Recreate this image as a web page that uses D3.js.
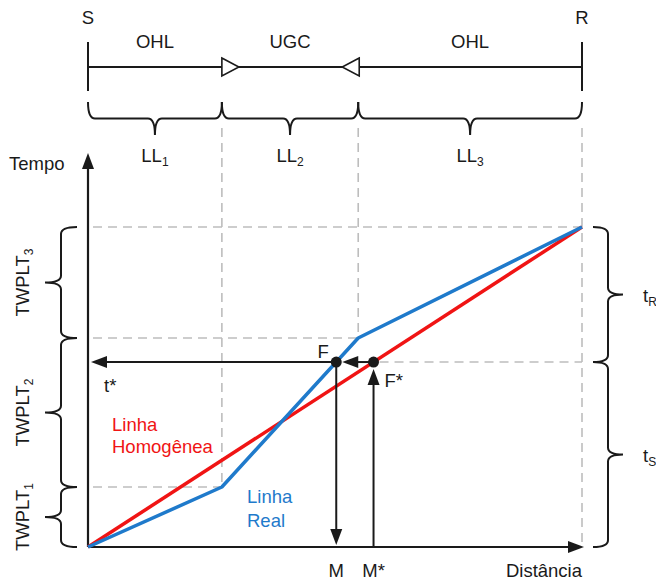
<!DOCTYPE html>
<html>
<head>
<meta charset="utf-8">
<script src="https://cdn.jsdelivr.net/npm/d3@7"></script>
<style>
  body { margin: 0; background: #fff; }
  text { font-family: "Liberation Sans", Arial, sans-serif; }
</style>
</head>
<body>
<div id="root"></div>
<script>
// distances (0..100) of the section boundaries S | OHL | UGC | OHL | R
var sections = ["OHL", "UGC", "OHL"];
var sectionEnds = [0, 27.1, 54.7, 100];
var lengthLabels = ["LL1", "LL2", "LL3"];

// travel time (0..100) at each boundary
var timeReal = [0, 18.75, 65.3, 100];
var timeLabels = ["TWPLT1", "TWPLT2", "TWPLT3"];
var tStar = 57.8; // t*, time where the reflections meet

var width = 656;
var height = 582;
var fs = 18.5;

var svg = d3
  .select("#root")
  .append("svg")
  .attr("width", width)
  .attr("height", height);

var x = d3.scaleLinear().domain([0, 100]).range([88, 582]);
var y = d3.scaleLinear().domain([0, 100]).range([547, 227]);

var grey = "#bdbdbd";
var ink = "#1a1a1a";
var red = "#f01414";
var blue = "#1f7acb";

function label(sx, sy, str, color, anchor) {
  return svg
    .append("text")
    .attr("x", sx)
    .attr("y", sy)
    .attr("font-size", fs)
    .attr("fill", color || ink)
    .attr("text-anchor", anchor || "middle")
    .text(str);
}

// text with a subscript at the end e.g. LL1
function subLabel(sx, sy, base, sub, rotate, anchor) {
  var t = svg
    .append("text")
    .attr("font-size", fs)
    .attr("fill", ink)
    .attr("text-anchor", anchor || "middle");
  if (rotate) t.attr("transform", "translate(" + sx + "," + sy + ") rotate(-90)");
  else t.attr("x", sx).attr("y", sy);
  t.append("tspan").text(base);
  t.append("tspan").attr("font-size", 12).attr("dy", 4).attr("fill", ink).text(sub);
  return t;
}

function arrowHead(tx, ty, dir) {
  // tip at tx,ty
  var l = 16, w = 6, p;
  if (dir === "left") p = [[tx, ty], [tx + l, ty - w], [tx + l, ty + w]];
  if (dir === "right") p = [[tx, ty], [tx - l, ty - w], [tx - l, ty + w]];
  if (dir === "up") p = [[tx, ty], [tx - w, ty + l], [tx + w, ty + l]];
  if (dir === "down") p = [[tx, ty], [tx - w, ty - l], [tx + w, ty - l]];
  svg.append("polygon").attr("points", p.join(" ")).attr("fill", ink);
}

function line(x1, y1, x2, y2, color, sw, dash) {
  return svg
    .append("line")
    .attr("x1", x1)
    .attr("y1", y1)
    .attr("x2", x2)
    .attr("y2", y2)
    .attr("stroke", color)
    .attr("stroke-width", sw)
    .attr("stroke-dasharray", dash || null);
}

// curly brace, edges at e and tip at e+depth
function brace(a, b, e, depth, vertical) {
  var s = e + depth * 0.5;
  var t = e + depth;
  var m = (a + b) / 2;
  var r = 7;
  var pts =
    "M" + [a, e] +
    " Q" + [a, s] + " " + [a + r, s] +
    " L" + [m - r, s] +
    " Q" + [m, s] + " " + [m, t] +
    " Q" + [m, s] + " " + [m + r, s] +
    " L" + [b - r, s] +
    " Q" + [b, s] + " " + [b, e];
  if (vertical) {
    pts = pts.replace(/(-?[\d.]+),(-?[\d.]+)/g, "$2,$1");
  }
  svg
    .append("path")
    .attr("d", pts)
    .attr("fill", "none")
    .attr("stroke", ink)
    .attr("stroke-width", 2);
}

// ---- grid (dashed) ----
var dash = "9,6";
sectionEnds.slice(1).forEach(function (d, i) {
  var bottom = i === 2 ? y(0) : y(timeReal[i + 1]);
  line(x(d), 128, x(d), bottom, grey, 1.6, dash);
});
timeReal.slice(1).forEach(function (d, i) {
  line(x(0) + 5, y(d), x(sectionEnds[i + 1]), y(d), grey, 1.6, dash);
});

// ---- top line S - R ----
line(x(0), 67, x(100), 67, ink, 2);
line(x(0), 42, x(0), 91, ink, 2);
line(x(100), 42, x(100), 91, ink, 2);
label(x(0), 24, "S");
label(x(100), 24, "R");

// triangles at the cable terminations
[
  [x(sectionEnds[1]), 1],
  [x(sectionEnds[2]) + 1, -1]
].forEach(function (d) {
  var bx = d[0], dir = d[1];
  svg
    .append("polygon")
    .attr("points", [[bx, 58], [bx + dir * 17, 67], [bx, 76]].join(" "))
    .attr("fill", "#fff")
    .attr("stroke", ink)
    .attr("stroke-width", 1.6);
});

sections.forEach(function (s, i) {
  var cx = (x(sectionEnds[i]) + x(sectionEnds[i + 1])) / 2;
  label(cx, 48, s);
  brace(x(sectionEnds[i]), x(sectionEnds[i + 1]), 102, 33, false);
  subLabel(cx, 162, lengthLabels[i].slice(0, 2), lengthLabels[i].slice(2));
});

// ---- axes ----
line(x(0), y(0), x(0), 168, ink, 2.2);
arrowHead(x(0), 153, "up");
line(x(0), y(0), 568, y(0), ink, 2.2);
arrowHead(584, y(0), "right");
label(9, 170, "Tempo", ink, "start");
label(582, 577, "Distância", ink, "end");

// ---- left braces TWPLT ----
timeLabels.forEach(function (lab, i) {
  brace(y(timeReal[i + 1]), y(timeReal[i]), 77, -32, true);
  var cy = (y(timeReal[i]) + y(timeReal[i + 1])) / 2;
  subLabel(29, cy, lab.slice(0, 5), lab.slice(5), true);
});

// ---- lines ----
var lineGen = d3
  .line()
  .x(function (d) { return x(d[0]); })
  .y(function (d) { return y(d[1]); });

svg
  .append("path")
  .attr("d", lineGen([[0, 0], [100, 100]]))
  .attr("fill", "none")
  .attr("stroke", red)
  .attr("stroke-width", 3.5);

svg
  .append("path")
  .attr("d", lineGen(sectionEnds.map(function (d, i) { return [d, timeReal[i]]; })))
  .attr("fill", "none")
  .attr("stroke", blue)
  .attr("stroke-width", 3.5)
  .attr("stroke-linejoin", "round");

// F on the real line, F* on the homogeneous line, both at t*
var distF = d3.scaleLinear().domain(timeReal).range(sectionEnds)(tStar);
var distFs = tStar;
var fx = x(distF), fsx = x(distFs), ty = y(tStar);

// right braces tR / tS
brace(y(100), ty, 593, 30, true);
brace(ty, y(0), 593, 30, true);
subLabel(643, (y(100) + ty) / 2 + 7, "t", "R", false, "start");
subLabel(643, (ty + y(0)) / 2 + 7, "t", "S", false, "start");
line(fsx + 6, ty, x(100), ty, grey, 1.6, dash);

// arrows
line(fsx, ty, fx + 14, ty, ink, 2);
arrowHead(fx + 6, ty, "left");
line(fx, ty, x(0) + 12, ty, ink, 2);
arrowHead(x(0) + 3, ty, "left");
line(fx, ty, fx, y(0) - 12, ink, 2);
arrowHead(fx, y(0) - 2, "down");
line(fsx, y(0), fsx, ty + 14, ink, 2);
arrowHead(fsx, ty + 7, "up");

svg.append("circle").attr("cx", fx).attr("cy", ty).attr("r", 5.5).attr("fill", ink);
svg.append("circle").attr("cx", fsx).attr("cy", ty).attr("r", 5.5).attr("fill", ink);

label(fx - 13, ty - 4, "F");
label(fsx + 11, ty + 25, "F*", ink, "start");
label(fx, 577, "M");
label(fsx, 577, "M*");
label(104, ty + 30, "t*", ink, "start");

label(112, 431, "Linha", red, "start");
label(112, 453, "Homogênea", red, "start");
label(247, 503, "Linha", blue, "start");
label(247, 527, "Real", blue, "start");
</script>
</body>
</html>
